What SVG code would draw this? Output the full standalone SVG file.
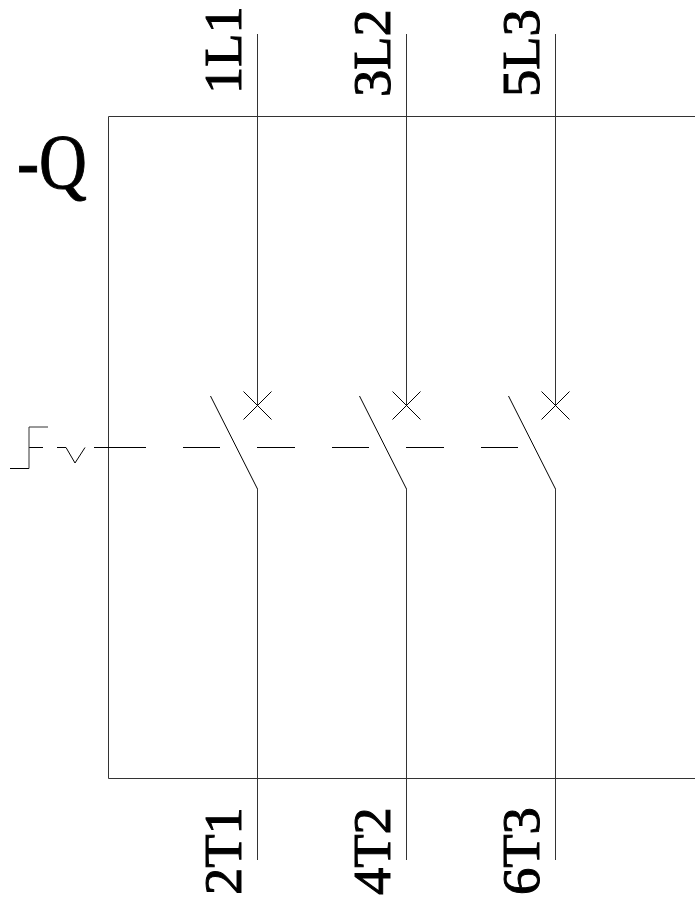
<svg xmlns="http://www.w3.org/2000/svg" width="695" height="900" viewBox="0 0 695 900">
<style>
.l{fill:none;stroke:#000;stroke-width:1}
.g{fill:none;stroke:#333;stroke-width:1}
.t{font-family:"Liberation Serif","Times New Roman",serif;font-size:53px;fill:#000;stroke:#000;stroke-width:1}
</style>
<defs>
<g id="pole"><path class="g" d="M0 34V405.500M0 489V860"/><path class="l" d="M-14 391.500L14 419.500M14 391.500L-14 419.500M-47 396L0 489"/></g>
</defs>
<rect width="695" height="900" fill="#fff"/>
<g id="frame"><path class="g" d="M695 116.500H108.500V778.500H695"/></g>
<g id="connectors">
<use href="#pole" x="257.500"/>
<use href="#pole" x="406.500"/>
<use href="#pole" x="555.500"/>
<path class="l" d="M94 447.500H146M183 447.500H220M257 447.500H295M332 447.500H369M406 447.500H444M481 447.500H518"/>
</g>
<g id="actuator"><path class="l" d="M10 468.500H29M29 447.500H43M57 447.500H66L75 463L85 447.500"/><path class="g" d="M29 468.500V427H48"/></g>
<g id="label-q"><text class="t" transform="translate(17 188) scale(1.02 1.2)" style="font-size:65px;stroke-width:.8">-Q</text></g>
<g id="label-1L1"><text class="t" transform="translate(241 94) rotate(-90) scale(1.03 .98)">1L1</text></g>
<g id="label-3L2"><text class="t" transform="translate(390 97) rotate(-90) scale(1.03 .98)">3L2</text></g>
<g id="label-5L3"><text class="t" transform="translate(539 97) rotate(-90) scale(1.03 .98)">5L3</text></g>
<g id="label-2T1"><text class="t" transform="translate(241 895) rotate(-90) scale(1.03 .98)">2T1</text></g>
<g id="label-4T2"><text class="t" transform="translate(390 895) rotate(-90) scale(1.03 .98)">4T2</text></g>
<g id="label-6T3"><text class="t" transform="translate(539 895) rotate(-90) scale(1.03 .98)">6T3</text></g>
</svg>
